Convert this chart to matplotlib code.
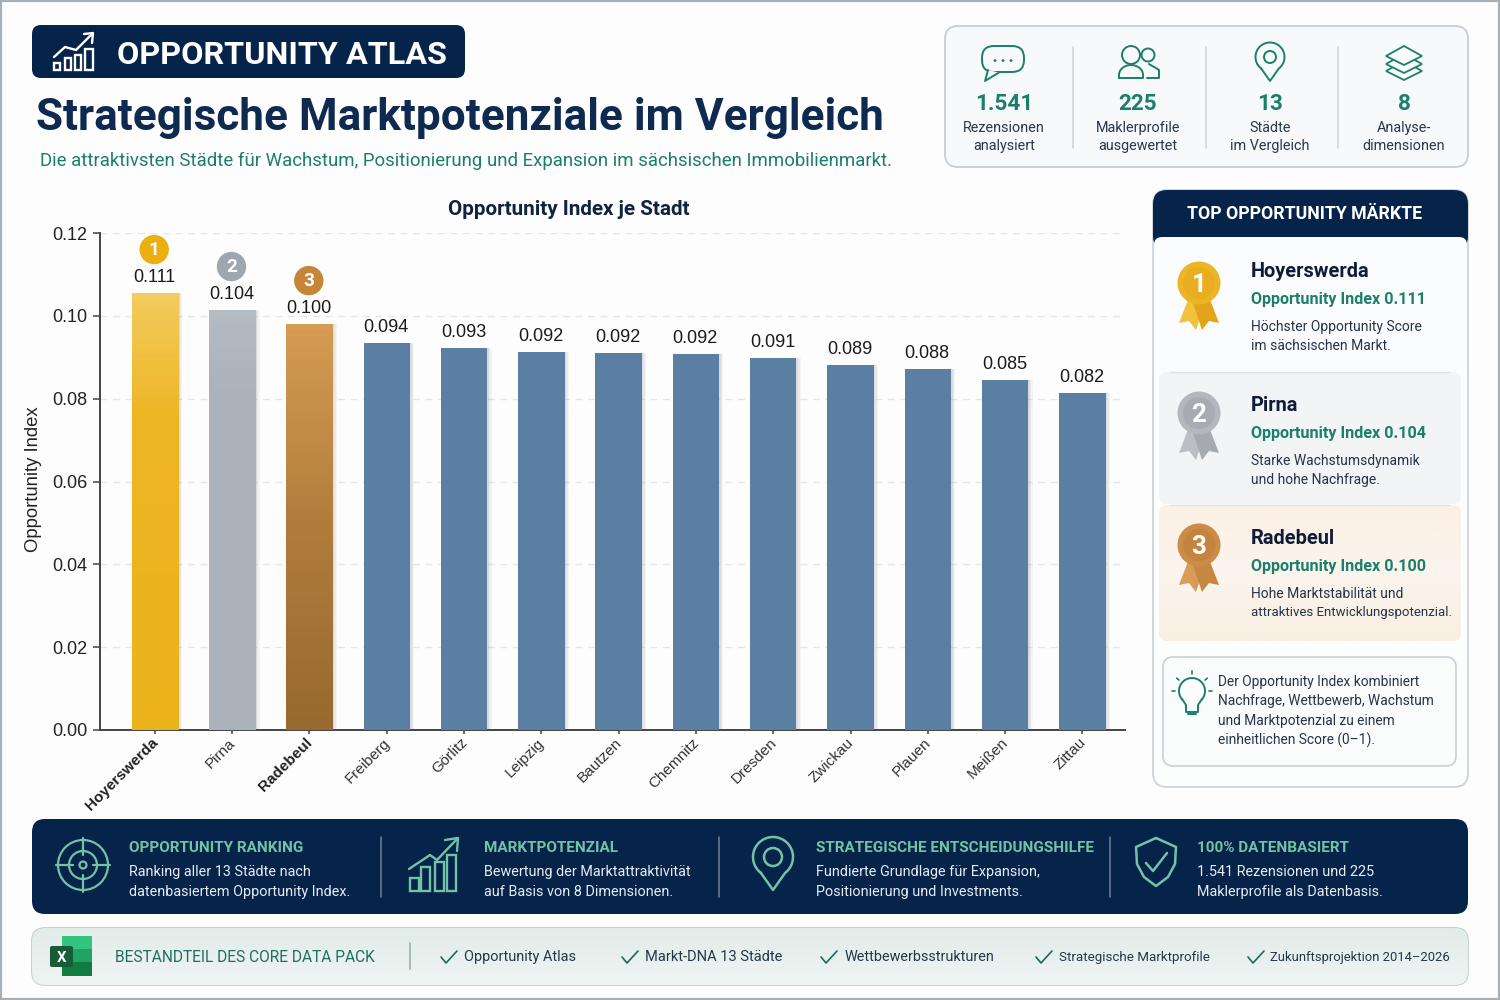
import numpy as np
import matplotlib
matplotlib.use("Agg")
import matplotlib.pyplot as plt
from matplotlib.patches import FancyBboxPatch, Circle, Polygon, Rectangle
from matplotlib.colors import LinearSegmentedColormap
from matplotlib.transforms import ScaledTranslation

# chart data
cities = ["Hoyerswerda", "Pirna", "Radebeul", "Freiberg", "Görlitz", "Leipzig", "Bautzen",
          "Chemnitz", "Dresden", "Zwickau", "Plauen", "Meißen", "Zittau"]
bar_heights = [0.1055, 0.1014, 0.0980, 0.0934, 0.0922, 0.0913, 0.0910,
               0.0908, 0.0898, 0.0881, 0.0872, 0.0845, 0.0814]
value_labels = ["0.111", "0.104", "0.100", "0.094", "0.093", "0.092", "0.092",
                "0.092", "0.091", "0.089", "0.088", "0.085", "0.082"]
y_ticks = [0.00, 0.02, 0.04, 0.06, 0.08, 0.10, 0.12]

# text content
kpi_values = ["1.541", "225", "13", "8"]
kpi_lines = [("Rezensionen", "analysiert"), ("Maklerprofile", "ausgewertet"),
             ("Städte", "im Vergleich"), ("Analyse-", "dimensionen")]
top_names = ["Hoyerswerda", "Pirna", "Radebeul"]
top_index = ["Opportunity Index 0.111", "Opportunity Index 0.104", "Opportunity Index 0.100"]
top_desc = [("Höchster Opportunity Score", "im sächsischen Markt."),
            ("Starke Wachstumsdynamik", "und hohe Nachfrage."),
            ("Hohe Marktstabilität und", "attraktives Entwicklungspotenzial.")]
note_lines = ["Der Opportunity Index kombiniert", "Nachfrage, Wettbewerb, Wachstum",
              "und Marktpotenzial zu einem", "einheitlichen Score (0–1)."]
band_heads = ["OPPORTUNITY RANKING", "MARKTPOTENZIAL", "STRATEGISCHE ENTSCHEIDUNGSHILFE", "100% DATENBASIERT"]
band_lines = [("Ranking aller 13 Städte nach", "datenbasiertem Opportunity Index."),
              ("Bewertung der Marktattraktivität", "auf Basis von 8 Dimensionen."),
              ("Fundierte Grundlage für Expansion,", "Positionierung und Investments."),
              ("1.541 Rezensionen und 225", "Maklerprofile als Datenbasis.")]
pack_items = ["Opportunity Atlas", "Markt-DNA 13 Städte", "Wettbewerbsstrukturen",
              "Strategische Marktprofile", "Zukunftsprojektion 2014–2026"]

NAVY = "#06234A"
INK = "#10233F"
TEAL = "#1B7F6B"
MINT = "#74C2A6"
SANS = "Liberation Sans"
UI = "Roboto"

plt.rcParams["font.family"] = [UI, "DejaVu Sans"]

fig = plt.figure(figsize=(15, 10), dpi=100, facecolor="#FDFDFD")

# background axes in pixel coordinates for all the panels
bg = fig.add_axes([0, 0, 1, 1], zorder=0)
bg.set_xlim(0, 1500)
bg.set_ylim(1000, 0)
bg.axis("off")


def px(size):
    # font size in points from a size in pixels
    return size * 0.72


def rounded(x0, y0, x1, y1, r, fc="none", ec="none", lw=1.0, z=1):
    box = FancyBboxPatch((x0, y0), x1 - x0, y1 - y0, boxstyle=f"round,pad=0,rounding_size={r}",
                         fc=fc, ec=ec, lw=lw, zorder=z)
    bg.add_patch(box)
    return box


def gradient(patch, colors, extent, z, horizontal=False):
    # fill a patch with a linear gradient
    cmap = LinearSegmentedColormap.from_list("g", colors)
    data = np.linspace(0, 1, 64).reshape(1, -1) if horizontal else np.linspace(0, 1, 64).reshape(-1, 1)
    im = bg.imshow(data, cmap=cmap, extent=extent, aspect="auto", zorder=z, origin="upper")
    im.set_clip_path(patch)
    bg.set_xlim(0, 1500)
    bg.set_ylim(1000, 0)


def txt(x, y, s, size, color=INK, weight="normal", ha="left", family=None, z=6, **kw):
    # va center sits a little high because of the descent, so push it down
    return bg.text(x, y + size * 0.08, s, fontsize=px(size), color=color, fontweight=weight, ha=ha, va="center",
                   family=family or UI, zorder=z, **kw)


def line(xs, ys, color, lw=1.5, z=5, **kw):
    bg.plot(xs, ys, color=color, lw=lw, zorder=z, solid_capstyle="round", solid_joinstyle="round", **kw)


def ring(cx, cy, r, color, lw=1.5, fc="none", z=5):
    bg.add_patch(Circle((cx, cy), r, fc=fc, ec=color, lw=lw, zorder=z))


def pin_icon(cx, cy, r, tip, inner, color, lw=1.5):
    a = np.arcsin(r / tip)
    t = np.linspace(np.pi / 2 + a - np.pi * 2, np.pi / 2 - a, 60)
    xs = cx + r * np.cos(t)
    ys = cy + r * np.sin(t)
    line(np.r_[xs, cx, xs[0]], np.r_[ys, cy + tip, ys[0]], color, lw)
    ring(cx, cy, inner, color, lw)


def growth_icon(x0, y1, s, bars, trend, head, color, lw=1.5):
    # bars with a rising arrow, coordinates are relative to the lower left corner
    for bx, bw, bh in bars:
        bg.add_patch(Rectangle((x0 + bx * s, y1 - bh * s), bw * s, bh * s, fc="none", ec=color, lw=lw, zorder=5))
    line([x0 + p[0] * s for p in trend], [y1 - p[1] * s for p in trend], color, lw)
    line([x0 + p[0] * s for p in head], [y1 - p[1] * s for p in head], color, lw)


def medal(cx, cy, rank, outer, inner, rib, rib_dark):
    bottom = cy + 49
    bg.add_patch(Polygon([[cx - 10, cy + 14], [cx - 20, cy + 40], [cx - 10, cy + 38], [cx - 3, bottom - 2], [cx + 6, cy + 20]],
                         fc=rib, ec="none", zorder=4))
    bg.add_patch(Polygon([[cx + 10, cy + 14], [cx + 20, cy + 40], [cx + 10, cy + 38], [cx + 3, bottom - 2], [cx - 6, cy + 20]],
                         fc=rib_dark, ec="none", zorder=4))
    bg.add_patch(Circle((cx, cy), 21.5, fc=outer, ec="none", zorder=5))
    bg.add_patch(Circle((cx, cy), 16.5, fc=inner, ec=outer, lw=0.8, zorder=5))
    txt(cx, cy, str(rank), 26, "white", "bold", ha="center", z=6)


def check(x, y, color="#1B6B5A"):
    line([x, x + 5, x + 16], [y, y + 6, y - 6], color, 1.2)


# page edge
bg.add_patch(Rectangle((0, 0), 1500, 1000, fc="#FDFDFD", ec="#A8B0B7", lw=3, zorder=0))

# header
rounded(32, 25, 465, 78, 9, fc=NAVY, z=2)
growth_icon(51, 70, 1.0, [(3, 6, 7), (14, 6, 12), (24, 6, 15), (34, 8, 21)],
            [(3, 13), (14, 23), (25, 20), (41, 36)], [(33, 36), (42, 37), (41, 27)], "white", 1.7)
txt(117, 52, "OPPORTUNITY ATLAS", 32.4, "white", "bold", z=6)
txt(36, 114, "Strategische Marktpotenziale im Vergleich", 44.2, "#0E2A50", "bold")
txt(40, 159, "Die attraktivsten Städte für Wachstum, Positionierung und Expansion im sächsischen Immobilienmarkt.", 18.6, TEAL)

# kpi panel
rounded(945, 26, 1468, 167, 13, fc="#F7F9FA", ec="#C6CED4", lw=1.3, z=1)
kpi_x = [1004, 1138, 1270, 1404]
for dx in [1073, 1206, 1338]:
    line([dx, dx], [47, 148], "#CDD3D8", 1.1)
for x, v, (l1, l2) in zip(kpi_x, kpi_values, kpi_lines):
    txt(x, 102, v, 22.5, TEAL, "bold", ha="center")
    txt(x, 127, l1, 14.4, "#26384F", ha="center")
    txt(x, 145, l2, 14.4, "#26384F", ha="center")

# speech bubble
rounded(982, 46, 1024, 72, 12, ec=TEAL, lw=1.4, z=5)
bg.add_patch(Polygon([[988, 70], [985, 81], [999, 72.6]], fc="#F7F9FA", ec="none", zorder=6))
line([988, 985, 999], [70, 81, 72.5], TEAL, 1.4, z=7)
for dx in [-8, 0, 8]:
    bg.add_patch(Circle((1003 + dx, 60.5), 1.4, fc=TEAL, ec="none", zorder=6))

# people
ring(1131, 55, 9, TEAL, 1.4)
ring(1148, 55, 6.5, TEAL, 1.4)
t = np.linspace(np.pi, 2 * np.pi, 30)
line(np.r_[1119, 1119 + 12 * (1 + np.cos(t)), 1143, 1119], np.r_[78, 75 + 10 * np.sin(t), 78, 78], TEAL, 1.4)
line([1149, 1159, 1159, 1147], [64, 70, 78, 78], TEAL, 1.4)

# pin and layers
pin_icon(1270, 57, 14.5, 24, 6, TEAL, 1.4)
for ly in [71, 64, 56]:
    bg.add_patch(Polygon([[1404, ly - 10], [1422, ly], [1404, ly + 9], [1386, ly]], fc="#F7F9FA", ec=TEAL, lw=1.3, zorder=5))

# right panel with the top markets
rounded(1153, 190, 1468, 787, 14, fc="#FCFDFD", ec="#CDD3D9", lw=1.3, z=1)
head = rounded(1153, 190, 1468, 250, 14, fc=NAVY, z=2)
rounded(1154, 237, 1467, 374, 8, fc="#FBFCFD", z=3)
txt(1305, 213, "TOP OPPORTUNITY MÄRKTE", 17.8, "white", "bold", ha="center")

row2 = rounded(1159, 372, 1461, 504, 8, fc="#F2F4F6", ec="none", z=3)
line([1170, 1450], [371.5, 371.5], "#DDE1E5", 1, z=4)
row3 = rounded(1159, 505, 1461, 641, 9, fc="#FAF1E7", z=3)
gradient(row3, ["#FBF0E4", "#FBF5EE", "#F9EEE2"], (1159, 1461, 641, 505), 3.1)
line([1170, 1450], [504.5, 504.5], "#DDE1E5", 1, z=4)

medal_y = [283, 413, 545]
medal_cols = [("#EBB527", "#E8AE1F", "#F2C23E", "#E2A51A"),
              ("#B4B8BD", "#A7ACB2", "#BBBFC4", "#A5AAB0"),
              ("#CB8C47", "#C4843F", "#D69C58", "#C58842")]
name_y = [270, 404, 537]
for i in range(3):
    medal(1199, medal_y[i], i + 1, *medal_cols[i])
    txt(1251, name_y[i], top_names[i], 20, "#0F1C38", "bold")
    txt(1251, name_y[i] + 28.5, top_index[i], 16.1, TEAL, "bold")
    txt(1251, name_y[i] + 55.5, top_desc[i][0], 13.9, "#26344A")
    # the last line of the third card is set tighter
    txt(1251, name_y[i] + 74.5, top_desc[i][1], 13.2 if i == 2 else 13.9, "#26344A")

# note box with the bulb
rounded(1163, 657, 1456, 766, 10, fc="#FAFCFC", ec="#C9D1D6", lw=1.2, z=4)
for i, s in enumerate(note_lines):
    txt(1218, 681 + i * 19.4, s, 13.7, "#26344A")
t = np.linspace(np.radians(-40), np.radians(220), 40)
line(1192 + 13 * np.cos(t), 691 - 13 * np.sin(t), TEAL, 1.4)
line([1182, 1186, 1186, 1198, 1198, 1202], [699, 705, 712, 712, 705, 699], TEAL, 1.4)
line([1188, 1196], [714, 714], TEAL, 1.4)
for a in [90, 40, 140, 0, 180]:
    ca, sa = np.cos(np.radians(a)), np.sin(np.radians(a))
    line([1192 + 17 * ca, 1192 + 20 * ca], [691 - 17 * sa, 691 - 20 * sa], TEAL, 1.2)

# dark band
rounded(32, 819, 1468, 914, 13, fc=NAVY, z=2)
for dx in [381, 719, 1110]:
    line([dx, dx], [837, 897], "#6F8296", 1.1)
head_x = [129, 484, 816, 1197]
for x, h, (l1, l2) in zip(head_x, band_heads, band_lines):
    txt(x, 847, h, 15.25, MINT, "bold")
    txt(x, 871, l1, 14.4, "#E6ECF1")
    txt(x, 890.5, l2, 14.4, "#E6ECF1")

# target icon
for r in [25, 14, 3.5]:
    ring(83, 865, r, MINT, 1.6)
line([56, 73], [865, 865], MINT, 1.6)
line([93, 110], [865, 865], MINT, 1.6)
line([83, 83], [838, 855], MINT, 1.6)
line([83, 83], [875, 892], MINT, 1.6)

growth_icon(408, 891, 1.0, [(2, 9, 13), (13, 9, 24), (27, 9, 29), (39, 9, 36)],
            [(1, 22), (22, 36), (29, 31), (49, 52)], [(37, 51), (50, 53), (49, 40)], MINT, 1.7)
pin_icon(773, 857, 20, 33, 9, MINT, 1.8)

# shield
line([1156, 1176, 1175, 1168, 1156, 1144, 1137, 1136, 1156], [838, 847, 864, 877, 886, 877, 864, 847, 838], MINT, 1.8)
line([1146, 1153, 1167], [863, 871, 853], MINT, 1.8)

# bottom band
pack = rounded(32, 928, 1468, 985, 13, fc="#EAF1EF", ec="#B9CCC6", lw=1.2, z=2)
gradient(pack, ["#E1ECE9", "#EFF4F3"], (32, 1468, 985, 928), 2.1)
line([410, 410], [943, 969], "#9DB8B0", 1.3)
txt(115, 956, "BESTANDTEIL DES CORE DATA PACK", 15.55, "#1F6F60")
check_x = [441, 622, 821, 1036, 1248]
item_x = [464, 645, 845, 1059, 1270]
item_sizes = [14.5, 14.6, 14.4, 13.35, 13.05]
for cx, ix, s, fs in zip(check_x, item_x, pack_items, item_sizes):
    check(cx, 957)
    txt(ix, 956, s, fs, "#24384A")

# excel icon
for ey, ec_ in zip([936, 949, 962], ["#33C481", "#21A366", "#107C41"]):
    bg.add_patch(Rectangle((62, ey), 30, 13.5, fc=ec_, ec="none", zorder=4))
rounded(50, 946, 73, 967, 2, fc="#185C37", z=5)
txt(61.5, 956.5, "X", 15, "white", "bold", ha="center")

# bar chart in data coordinates
ax = fig.add_axes([100 / 1500, 1 - 730 / 1000, 1025 / 1500, 497 / 1000], zorder=2)
ax.patch.set_alpha(0)
x_pos = np.arange(len(cities))
ax.set_xlim(-0.71, 12.55)
ax.set_ylim(0, 0.12)

ax.set_yticks(y_ticks, [f"{v:.2f}" for v in y_ticks], fontfamily=SANS, fontsize=px(18), color="#222222")
ax.set_xticks(x_pos)
ax.set_xticklabels(cities, rotation=45, ha="right", rotation_mode="anchor", fontfamily=SANS, fontsize=px(15.2), color="#333333")
for i in [0, 2]:
    ax.get_xticklabels()[i].set_fontweight("bold")
    ax.get_xticklabels()[i].set_color("#222222")
ax.tick_params(axis="y", length=5, width=1.1, color="#444444", pad=4)
ax.tick_params(axis="x", length=3, width=1.1, color="#444444", pad=1)
# tick_params resets the label transform, so the shift has to come after it
label_shift = ScaledTranslation(-4 / 100, 0, fig.dpi_scale_trans)
for lab in ax.get_xticklabels():
    lab.set_transform(lab.get_transform() + label_shift)
ax.grid(axis="y", color="#E4E7EA", lw=1, ls=(0, (5, 4)))
ax.set_axisbelow(True)
for side in ["top", "right"]:
    ax.spines[side].set_visible(False)
for side in ["left", "bottom"]:
    ax.spines[side].set_color("#444444")
    ax.spines[side].set_linewidth(1.4)
ax.set_ylabel("Opportunity Index", fontfamily=SANS, fontsize=px(18.5), color="#222222")
ax.yaxis.set_label_coords((42 - 100) / 1025, 0.505)

# soft shadow on the right of each bar
for off, alpha in [(0.055, 0.05), (0.04, 0.07), (0.02, 0.09)]:
    ax.bar(x_pos + off, bar_heights, width=0.6, color="#50606E", alpha=alpha, zorder=2)

bar_colors = ["#EBB31C", "#AAB3BC", "#9C6B2F"] + ["#5B7FA2"] * (len(cities) - 3)
bars = ax.bar(x_pos, bar_heights, width=0.6, color=bar_colors, zorder=3)

# top three fade to a lighter tone at the top
tops = [[(0, "#F3CB5E"), (0.28, "#EDB623"), (1, "#EBB31C")],
        [(0, "#B3BBC3"), (0.2, "#AAB3BC"), (1, "#AAB3BC")],
        [(0, "#D69C52"), (0.5, "#B07C3C"), (1, "#986A2E")]]
for i, cols in enumerate(tops):
    cmap = LinearSegmentedColormap.from_list("t", cols)
    im = ax.imshow(np.linspace(0, 1, 64).reshape(-1, 1), cmap=cmap, aspect="auto", zorder=3.1,
                   extent=(x_pos[i] - 0.3, x_pos[i] + 0.3, 0, bar_heights[i]), origin="upper")
    im.set_clip_path(bars[i])
ax.set_xlim(-0.71, 12.55)
ax.set_ylim(0, 0.12)

for i, (h, s) in enumerate(zip(bar_heights, value_labels)):
    ax.annotate(s, (x_pos[i], h), xytext=(-0.5, px(15.5)), textcoords="offset points", ha="center", va="center",
                fontfamily=SANS, fontsize=px(18), color="#1A1A1A", zorder=5)

badge_colors = ["#EBAF12", "#9EA6AF", "#C7853A"]
for i, col in enumerate(badge_colors):
    ax.annotate(str(i + 1), (x_pos[i], bar_heights[i]), xytext=(-0.5, px(43.5)), textcoords="offset points",
                ha="center", va="center", fontfamily=UI, fontweight="bold", fontsize=px(19), color="white", zorder=5,
                bbox=dict(boxstyle="circle,pad=0.3", fc=col, ec="none"))

txt(569, 208, "Opportunity Index je Stadt", 20.7, "#10233F", "bold", ha="center")

fig.savefig("out.png", dpi=100, facecolor=fig.get_facecolor())
